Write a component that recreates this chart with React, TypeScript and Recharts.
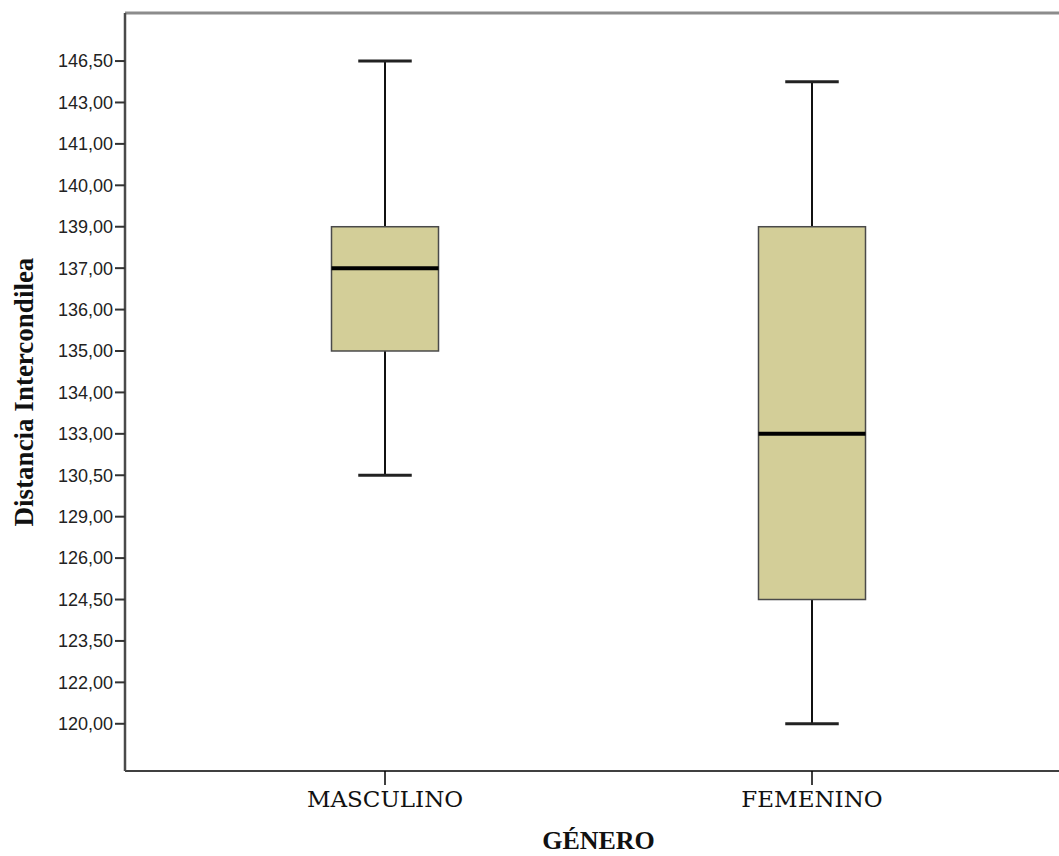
import React from "react";
import { BarChart, Bar, XAxis, YAxis, ReferenceLine } from "recharts";

// SPSS treats the variable as ordinal: tick labels are evenly spaced
const yTickLabels = [
  "120,00", "122,00", "123,50", "124,50", "126,00", "129,00", "130,50", "133,00", "134,00",
  "135,00", "136,00", "137,00", "139,00", "140,00", "141,00", "143,00", "146,50",
];
const categories = ["MASCULINO", "FEMENINO"];

// box stats as positions on the ordinal axis (index into yTickLabels)
const whiskerLow = [6, 0];
const q1 = [9, 3];
const median = [11, 7];
const q3 = [12, 12];
const whiskerHigh = [16, 15.5];

const Y_MIN = -1.14;
const Y_MAX = 17.16;

const data = categories.map((name, i) => ({
  name,
  range: [whiskerLow[i], whiskerHigh[i]],
  q1: q1[i],
  median: median[i],
  q3: q3[i],
}));

const BoxShape = (props: any) => {
  const { x, y, width, height, payload } = props;
  const [lo, hi] = payload.range;
  const top = Math.min(y, y + height);
  const k = Math.abs(height) / (hi - lo);
  const py = (v: number) => top + (hi - v) * k;
  const cx = x + width / 2;
  const capW = width / 2;
  return (
    <g>
      <line x1={cx} x2={cx} y1={py(hi)} y2={py(payload.q3)} stroke="#111" strokeWidth={2} />
      <line x1={cx} x2={cx} y1={py(payload.q1)} y2={py(lo)} stroke="#111" strokeWidth={2} />
      <line x1={cx - capW / 2} x2={cx + capW / 2} y1={py(hi)} y2={py(hi)} stroke="#222" strokeWidth={3} />
      <line x1={cx - capW / 2} x2={cx + capW / 2} y1={py(lo)} y2={py(lo)} stroke="#222" strokeWidth={3} />
      <rect
        x={x}
        y={py(payload.q3)}
        width={width}
        height={py(payload.q1) - py(payload.q3)}
        fill="#D3CE98"
        stroke="#4a4a4a"
        strokeWidth={1.5}
      />
      <line x1={x} x2={x + width} y1={py(payload.median)} y2={py(payload.median)} stroke="#000" strokeWidth={4} />
    </g>
  );
};

const YTitle = (props: any) => {
  const { viewBox } = props;
  const cy = viewBox.y + viewBox.height / 2;
  return (
    <text
      x={24}
      y={cy}
      transform={`rotate(-90, 24, ${cy})`}
      textAnchor="middle"
      dominantBaseline="central"
      fontFamily="Liberation Serif"
      fontWeight="bold"
      fontSize={27}
      fill="#111"
    >
      Distancia Intercondilea
    </text>
  );
};

const XTitle = (props: any) => {
  const { viewBox } = props;
  return (
    <text
      x={viewBox.x + viewBox.width / 2}
      y={849}
      textAnchor="middle"
      fontFamily="Liberation Serif"
      fontWeight="bold"
      fontSize={26}
      fill="#111"
    >
      GÉNERO
    </text>
  );
};

export default function App() {
  return (
    <div style={{ position: "absolute", left: 0, top: 0, width: 1059, height: 856, overflow: "hidden", background: "#fff" }}>
      <BarChart width={1080} height={856} data={data} margin={{ top: 13, right: 8, bottom: 0, left: 0 }}>
        <ReferenceLine y={Y_MAX} stroke="#8c8c8c" strokeWidth={3} />
        <XAxis
          dataKey="name"
          type="category"
          padding={{ left: 46.5, right: 46.5 }}
          height={85}
          tickSize={14}
          tickMargin={6}
          axisLine={{ stroke: "#000", strokeWidth: 1.5 }}
          tickLine={{ stroke: "#000", strokeWidth: 1.5 }}
          tick={{ fill: "#111", fontSize: 23, fontFamily: "DejaVu Serif" }}
          label={<XTitle />}
        />
        <YAxis
          type="number"
          domain={[Y_MIN, Y_MAX]}
          ticks={yTickLabels.map((_, i) => i)}
          interval={0}
          tickFormatter={(v: number) => yTickLabels[v]}
          width={125}
          tickSize={10}
          tickMargin={2}
          axisLine={{ stroke: "#4a4a4a", strokeWidth: 2.5 }}
          tickLine={{ stroke: "#333", strokeWidth: 2 }}
          tick={{ fill: "#222", fontSize: 18, fontFamily: "Liberation Sans" }}
          label={<YTitle />}
        />
        <Bar dataKey="range" barSize={107} shape={<BoxShape />} isAnimationActive={false} />
      </BarChart>
    </div>
  );
}
